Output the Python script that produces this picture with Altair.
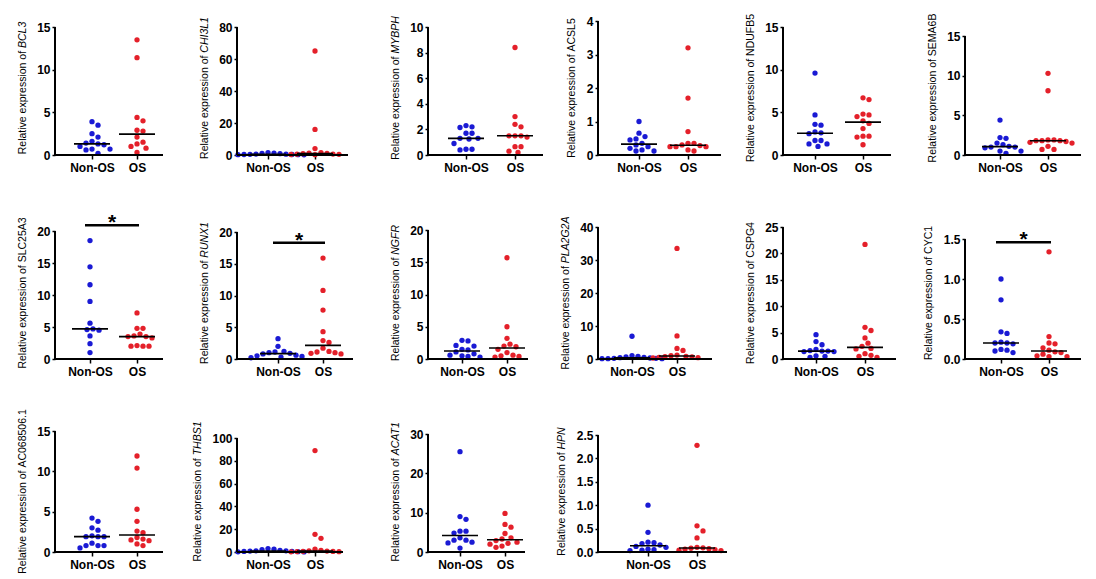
import altair as alt
import pandas as pd
import numpy as np

# ---------------- data ----------------
BCL3_NON = [3.9, 3.5, 2.5, 2.1, 1.6, 1.4, 1.3, 1.2, 1.0, 0.7, 0.7, 0.6, 0.2]
BCL3_OS = [13.5, 11.4, 4.4, 4.0, 2.9, 2.8, 2.1, 1.5, 1.3, 1.0, 0.8, 0.3]
CHI3L1_NON = [1.5, 1.2, 1.0, 0.8, 0.6, 0.5, 0.4, 0.3, 0.3, 0.2, 0.2, 0.1]
CHI3L1_OS = [65.0, 16.0, 4.0, 1.5, 1.2, 1.0, 0.8, 0.6, 0.5, 0.4, 0.3, 0.2]
MYBPH_NON = [2.3, 2.2, 2.15, 1.7, 1.7, 1.3, 1.3, 1.25, 0.9, 0.45, 0.45, 0.4]
MYBPH_OS = [8.4, 3.0, 2.4, 2.2, 1.5, 1.5, 1.5, 1.4, 0.65, 0.65, 0.3, 0.2]
ACSL5_NON = [1.0, 0.65, 0.55, 0.48, 0.45, 0.35, 0.3, 0.25, 0.2, 0.15, 0.12, 0.12]
ACSL5_OS = [3.2, 1.7, 0.7, 0.35, 0.35, 0.3, 0.28, 0.25, 0.25, 0.25, 0.15, 0.12]
NDUFB5_NON = [9.6, 4.7, 3.6, 3.5, 2.7, 2.6, 2.5, 1.7, 1.7, 1.3, 1.3, 1.0]
NDUFB5_OS = [6.7, 6.5, 4.8, 4.7, 4.5, 4.0, 3.7, 3.1, 2.2, 2.2, 2.1, 1.2]
SEMA6B_NON = [4.4, 2.2, 2.1, 1.5, 1.3, 1.1, 1.0, 1.0, 0.9, 0.5, 0.5, 0.2]
SEMA6B_OS = [10.3, 8.1, 1.9, 1.9, 1.8, 1.8, 1.8, 1.7, 1.6, 1.5, 1.1, 0.7, 0.7]
SLC25A3_NON = [18.5, 14.4, 11.6, 9.0, 5.6, 4.7, 4.6, 4.5, 3.6, 2.4, 1.0]
SLC25A3_OS = [7.2, 4.8, 4.8, 3.9, 3.6, 3.5, 3.5, 3.3, 2.1, 2.0, 2.0, 2.0]
RUNX1_NON = [3.2, 2.0, 1.2, 1.1, 1.0, 0.9, 0.8, 0.6, 0.5, 0.4, 0.3, 0.2]
RUNX1_OS = [15.9, 10.8, 7.7, 4.3, 2.9, 2.6, 1.7, 1.2, 1.1, 1.0, 0.9, 0.8]
NGFR_NON = [2.9, 2.8, 2.1, 2.0, 1.5, 1.4, 1.1, 0.8, 0.6, 0.5, 0.4, 0.3]
NGFR_OS = [15.7, 5.0, 3.2, 2.3, 2.0, 1.9, 1.5, 1.0, 0.6, 0.5, 0.4, 0.3]
PLA2G2A_NON = [6.9, 1.0, 0.8, 0.6, 0.5, 0.4, 0.3, 0.2, 0.2, 0.1, 0.1, 0.1]
PLA2G2A_OS = [33.5, 7.0, 3.2, 2.6, 1.2, 1.0, 0.8, 0.7, 0.6, 0.5, 0.4, 0.3]
CSPG4_NON = [4.6, 3.3, 2.7, 1.8, 1.6, 1.5, 1.5, 1.4, 1.4, 0.6, 0.5, 0.3]
CSPG4_OS = [21.7, 6.0, 5.4, 4.0, 3.0, 2.4, 2.0, 1.9, 1.0, 0.7, 0.5, 0.3]
CYC1_NON = [1.0, 0.74, 0.34, 0.32, 0.21, 0.2, 0.2, 0.19, 0.12, 0.11, 0.1, 0.08]
CYC1_OS = [1.34, 0.28, 0.2, 0.19, 0.14, 0.11, 0.09, 0.08, 0.06, 0.04, 0.03, 0.03]
AC068506_NON = [4.2, 3.8, 3.0, 2.7, 2.0, 1.9, 1.9, 1.9, 1.1, 0.8, 0.8, 0.8, 0.5]
AC068506_OS = [11.9, 10.4, 5.3, 3.8, 2.6, 2.4, 1.8, 1.6, 1.5, 1.4, 1.0, 0.8]
THBS1_NON = [3.0, 2.5, 2.0, 1.5, 1.0, 1.0, 0.8, 0.5, 0.5, 0.3, 0.2, 0.1]
THBS1_OS = [89.0, 15.5, 12.0, 2.5, 1.5, 1.0, 0.8, 0.6, 0.5, 0.4, 0.3, 0.2]
ACAT1_NON = [25.5, 9.0, 8.3, 5.3, 5.3, 4.8, 3.6, 3.0, 3.0, 2.5, 2.3, 1.0]
ACAT1_OS = [9.8, 7.0, 6.3, 4.7, 3.6, 3.3, 2.9, 2.5, 2.2, 2.0, 1.5, 1.2]
HPN_NON = [1.0, 0.42, 0.21, 0.2, 0.18, 0.15, 0.12, 0.1, 0.06, 0.05, 0.04, 0.03]
HPN_OS = [2.28, 0.56, 0.45, 0.3, 0.1, 0.09, 0.08, 0.07, 0.06, 0.05, 0.04, 0.03]

GROUPS = ["Non-OS", "OS"]
TITLE_PREFIX = "Relative expression of "
ITALIC_GENES = ["BCL3", "CHI3L1", "MYBPH", "RUNX1", "NGFR", "PLA2G2A", "THBS1", "ACAT1", "HPN"]
Y_MAX = {"BCL3": 15, "CHI3L1": 80, "MYBPH": 10, "ACSL5": 4, "NDUFB5": 15, "SEMA6B": 15,
         "SLC25A3": 20, "RUNX1": 20, "NGFR": 20, "PLA2G2A": 40, "CSPG4": 25, "CYC1": 1.5,
         "AC068506.1": 15, "THBS1": 100, "ACAT1": 30, "HPN": 2.5}
Y_STEP = {"BCL3": 5, "CHI3L1": 20, "MYBPH": 2, "ACSL5": 1, "NDUFB5": 5, "SEMA6B": 5,
          "SLC25A3": 5, "RUNX1": 5, "NGFR": 5, "PLA2G2A": 10, "CSPG4": 5, "CYC1": 0.5,
          "AC068506.1": 5, "THBS1": 20, "ACAT1": 10, "HPN": 0.5}
SIG_BAR = {"SLC25A3": 20.9, "RUNX1": 18.3, "CYC1": 1.46}

DATA = {
    "BCL3": (BCL3_NON, BCL3_OS), "CHI3L1": (CHI3L1_NON, CHI3L1_OS),
    "MYBPH": (MYBPH_NON, MYBPH_OS), "ACSL5": (ACSL5_NON, ACSL5_OS),
    "NDUFB5": (NDUFB5_NON, NDUFB5_OS), "SEMA6B": (SEMA6B_NON, SEMA6B_OS),
    "SLC25A3": (SLC25A3_NON, SLC25A3_OS), "RUNX1": (RUNX1_NON, RUNX1_OS),
    "NGFR": (NGFR_NON, NGFR_OS), "PLA2G2A": (PLA2G2A_NON, PLA2G2A_OS),
    "CSPG4": (CSPG4_NON, CSPG4_OS), "CYC1": (CYC1_NON, CYC1_OS),
    "AC068506.1": (AC068506_NON, AC068506_OS), "THBS1": (THBS1_NON, THBS1_OS),
    "ACAT1": (ACAT1_NON, ACAT1_OS), "HPN": (HPN_NON, HPN_OS),
}

# ---------------- layout (pixels in page) ----------------
# gene: (y-axis x, x-axis end, top tick y, Non-OS x, OS x)
GEOM = {
    "BCL3": (55, 163, 26, 92, 137), "CHI3L1": (237, 348, 26, 268, 315),
    "MYBPH": (408, 523, 26, 446, 495), "ACSL5": (577, 700, 20, 618, 667),
    "NDUFB5": (762, 870, 26, 794, 842), "SEMA6B": (942, 1058, 35, 977, 1025),
    "SLC25A3": (55, 163, 230, 90, 137), "RUNX1": (227, 343, 231, 268, 313),
    "NGFR": (418, 518, 229, 452, 497), "PLA2G2A": (588, 702, 226, 622, 667),
    "CSPG4": (760, 873, 226, 793, 842), "CYC1": (942, 1058, 238, 978, 1026),
    "AC068506.1": (55, 163, 430, 92, 137), "THBS1": (237, 343, 437, 268, 315),
    "ACAT1": (420, 517, 433, 452, 497), "HPN": (573, 702, 434, 623, 672),
}
# (genes, row top y, row zero-line y)
ROWS = [
    (["BCL3", "CHI3L1", "MYBPH", "ACSL5", "NDUFB5", "SEMA6B"], 20, 154),
    (["SLC25A3", "RUNX1", "NGFR", "PLA2G2A", "CSPG4", "CYC1"], 226, 358),
    (["AC068506.1", "THBS1", "ACAT1", "HPN"], 430, 551),
]
ROW_GAP = 72

BLUE = "#1a1ad4"
RED = "#e4202a"
FONT = "Liberation Sans"
TITLE_SIZE = 10.5
LABEL_SIZE = 12
TICK = 3
LABEL_PAD = 2
TITLE_PAD = 9

# Liberation Sans (Arial-metric) advance widths, per 1000 em
ADV = {" ": 278, "R": 722, "e": 556, "l": 222, "a": 556, "t": 278, "i": 222, "v": 500,
       "x": 500, "p": 556, "r": 333, "s": 500, "o": 556, "n": 556, "f": 278, ".": 278,
       "A": 667, "B": 667, "C": 722, "D": 722, "E": 667, "F": 611, "G": 778, "H": 722,
       "I": 278, "L": 556, "M": 833, "N": 722, "O": 778, "P": 667, "S": 667, "T": 611,
       "U": 722, "X": 667, "Y": 667}


def text_width(s, size):
    return sum(ADV.get(ch, 556) for ch in s) * size / 1000.0


def swarm(values, ppu, d=6.0):
    vals = np.asarray(values, dtype=float)
    order = np.argsort(-vals, kind="stable")
    placed = []
    offs = [0.0] * len(vals)
    for i in order:
        y = vals[i] * ppu
        chosen = None
        k = 0
        while chosen is None:
            cands = [0.0] if k == 0 else [k * d / 2, -k * d / 2]
            for c in cands:
                if all((c - xo) ** 2 + (y - yo) ** 2 >= d * d for yo, xo in placed):
                    chosen = c
                    break
            k += 1
        placed.append((y, chosen))
        offs[i] = float(chosen)
    return offs


def panel(gene, origin, width, row_top, row_bot):
    ax, end, top, t1, t2 = GEOM[gene]
    ymax, step = Y_MAX[gene], Y_STEP[gene]
    non, osv = DATA[gene]
    H = row_bot - row_top
    ppu = (row_bot - top) / ymax
    yhi = float(H / ppu)
    c1, c2 = float(t1 - origin), float(t2 - origin)
    L = float(end - origin)
    recs = []
    for grp, vals, c in (("Non-OS", non, c1), ("OS", osv, c2)):
        for v, o in zip(vals, swarm(vals, ppu)):
            recs.append({"group": grp, "value": v, "x": c + o, "center": c})
    df = pd.DataFrame(recs)

    xs = alt.Scale(domain=[0, width], nice=False, zero=False)
    ys = alt.Scale(domain=[0, yhi], nice=False, zero=True)
    nt = int(round(ymax / step))
    ticks = [round(i * step, 3) for i in range(nt + 1)]
    fmt = ".1f" if step < 1 else ".0f"
    tick_text = [format(t, fmt) for t in ticks]
    max_label_w = max(text_width(s, LABEL_SIZE) for s in tick_text)

    xaxis = alt.Axis(
        values=[c1, c2],
        labelExpr=f"datum.value < {(c1 + c2) / 2} ? 'Non-OS' : 'OS'",
        title=None, grid=False, domain=False, tickWidth=1.5, tickSize=4,
        labelFontSize=LABEL_SIZE, labelFontWeight="bold", labelPadding=3,
        labelFlush=False, labelOverlap=False)
    yaxis = alt.Axis(
        values=ticks, format=fmt, title=None,
        grid=False, domain=False, tickWidth=1.5, tickSize=TICK,
        labelFontSize=LABEL_SIZE, labelFontWeight="bold", labelPadding=LABEL_PAD,
        labelOverlap=False, labelFlush=False)

    pts = alt.Chart(df).mark_circle(size=28, opacity=1).encode(
        x=alt.X("x:Q", scale=xs, axis=xaxis),
        y=alt.Y("value:Q", scale=ys, axis=yaxis),
        color=alt.Color("group:N", scale=alt.Scale(domain=GROUPS, range=[BLUE, RED]), legend=None),
    )
    axes_df = pd.DataFrame({"xa": [0.0, 0.0], "xb": [L, 0.0], "ya": [0.0, 0.0], "yb": [0.0, float(ymax)]})
    axis_lines = alt.Chart(axes_df).mark_rule(color="black", strokeWidth=2).encode(
        x=alt.X("xa:Q", scale=xs, axis=xaxis), x2="xb:Q",
        y=alt.Y("ya:Q", scale=ys, axis=yaxis), y2="yb:Q",
    )
    med = alt.Chart(df).transform_aggregate(
        m="median(value)", c="mean(center)", groupby=["group"]
    ).transform_calculate(
        x1="datum.c - 18", x2="datum.c + 18"
    ).mark_rule(color="black", strokeWidth=1.6).encode(
        x=alt.X("x1:Q", scale=xs, axis=xaxis), x2="x2:Q",
        y=alt.Y("m:Q", scale=ys, axis=yaxis),
    )
    layers = [pts, axis_lines, med]

    # y-axis title: plain prefix + gene name (italic where the figure uses italics)
    w1 = text_width(TITLE_PREFIX, TITLE_SIZE)
    w2 = text_width(gene, TITLE_SIZE)
    tx = -(TICK + LABEL_PAD + max_label_w + TITLE_PAD)
    ybot = H / 2 + (w1 + w2) / 2
    t_df = pd.DataFrame({"prefix": [TITLE_PREFIX], "gene": [gene]})
    t1_mark = alt.Chart(t_df).mark_text(
        font=FONT, fontSize=TITLE_SIZE, angle=270, align="left", baseline="bottom",
        color="black", fontWeight="normal"
    ).encode(x=alt.value(tx), y=alt.value(ybot), text="prefix:N")
    t2_mark = alt.Chart(t_df).mark_text(
        font=FONT, fontSize=TITLE_SIZE, angle=270, align="left", baseline="bottom",
        color="black", fontWeight="normal",
        fontStyle="italic" if gene in ITALIC_GENES else "normal"
    ).encode(x=alt.value(tx), y=alt.value(ybot - w1), text="gene:N")
    layers += [t1_mark, t2_mark]

    if gene in SIG_BAR:
        sig = pd.DataFrame({"xa": [c1 - 5], "xb": [c2 + 2], "xm": [(c1 + c2) / 2 - 1.5],
                            "y": [SIG_BAR[gene]], "label": ["*"]})
        bar = alt.Chart(sig).mark_rule(color="black", strokeWidth=2.5).encode(
            x=alt.X("xa:Q", scale=xs, axis=xaxis), x2="xb:Q",
            y=alt.Y("y:Q", scale=ys, axis=yaxis))
        star = alt.Chart(sig).mark_text(
            font=FONT, fontSize=21, fontWeight="bold", baseline="alphabetic", dy=4, color="black"
        ).encode(x=alt.X("xm:Q", scale=xs, axis=xaxis), y=alt.Y("y:Q", scale=ys, axis=yaxis),
                 text="label:N")
        layers += [bar, star]
    return alt.layer(*layers).properties(width=int(width), height=int(H))


panels = []
for genes, row_top, row_bot in ROWS:
    origins = [GEOM[g][0] for g in genes]
    for i, g in enumerate(genes):
        if i + 1 < len(genes):
            w = origins[i + 1] - origins[i]
        else:
            w = GEOM[g][1] - origins[i] + 2
        panels.append(panel(g, origins[i], w, row_top, row_bot))

chart = alt.concat(
    *panels, columns=6, spacing=alt.RowColnumber(row=ROW_GAP, column=0),
    bounds="flush", align="none"
).properties(
    padding={"left": 17, "top": 13, "right": 5, "bottom": 2}
).configure_view(stroke=None).configure_axis(
    domainColor="black", tickColor="black", labelColor="black", titleColor="black",
    labelFont=FONT, titleFont=FONT,
)

chart.save("out.html", embed_options={"renderer": "svg", "actions": False})
